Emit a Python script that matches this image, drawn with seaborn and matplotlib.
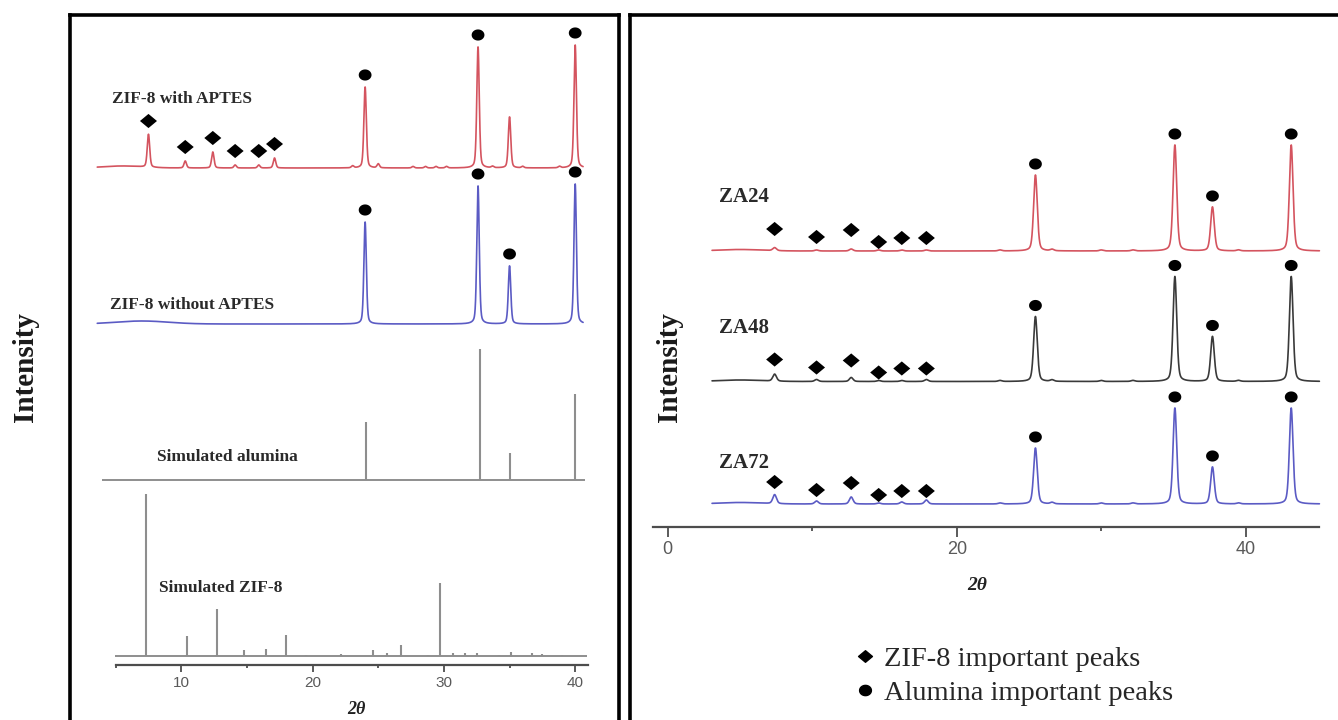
import numpy as np
import matplotlib
matplotlib.use("Agg")
import matplotlib.pyplot as plt
import seaborn as sns
from matplotlib.lines import Line2D
from matplotlib.path import Path

# ---------------- data ----------------
# Left panel: experimental patterns (2θ position, intensity a.u.)
aptes_pos = [7.5, 10.3, 12.4, 14.1, 15.9, 17.1, 23.05, 24.0, 25.0, 27.65, 28.6, 29.4, 30.2, 32.6, 33.7, 35.0, 36.0, 38.8, 40.0]
aptes_int = [33, 7, 16, 3, 3, 10, 2, 81, 4, 1.5, 1.5, 1.5, 1.5, 121, 1.5, 51, 1.5, 1.5, 123]
aptes_zif_marks = [7.5, 10.3, 12.4, 14.1, 15.9, 17.1]
aptes_alu_marks = [24.0, 32.6, 40.0]

noaptes_pos = [24.0, 32.6, 35.0, 40.0]
noaptes_int = [102, 138, 58, 140]
noaptes_alu_marks = [24.0, 32.6, 35.0, 40.0]

# Left panel: simulated reference patterns (stick positions and intensities)
sim_alumina_pos = [24.1, 32.75, 35.0, 40.0]
sim_alumina_int = [58, 131, 27, 86]
sim_zif_pos = [7.3, 10.4, 12.75, 14.8, 16.45, 18.0, 19.5, 22.2, 24.6, 25.7, 26.7, 28.8,
               29.7, 30.7, 31.6, 32.5, 34.2, 35.1, 36.7, 37.5, 39.0]
sim_zif_int = [162, 20, 47, 6, 7, 21, 1, 2, 6, 3, 11, 1,
               73, 3, 3, 3, 1, 4, 3, 2, 1]

# Right panel: ZA samples
za_alu_pos = [25.45, 35.1, 37.7, 43.15]
za24_alu = [76, 106, 44, 106]
za48_alu = [65, 105, 45, 105]
za72_alu = [56, 96, 37, 96]
za_zif_pos = [7.4, 10.3, 12.7, 14.6, 16.2, 17.9]
za24_zif = [3, 1, 2, 1, 1, 1]
za48_zif = [7, 2, 4, 1, 1, 2]
za72_zif = [9, 3, 7, 1, 2, 4]
za_minor_pos = [23.0, 26.6, 30.0, 32.2, 39.5]
za_minor_int = [1, 1.5, 1, 1, 1]

left_tick_major = [10, 20, 30, 40]
left_tick_minor = [5, 15, 25, 35]
right_tick_major = [0, 20, 40]
right_tick_minor = [10, 30]

# ---------------- style ----------------
sns.set_style("white")
plt.rcParams["font.family"] = ["Liberation Serif", "DejaVu Serif"]

RED = "#d4545f"
BLUE = "#5b5bc4"
DARK = "#3a3a3a"
STICK = "#8e8e8e"
AXC = "#4d4d4d"

W, H = 1338, 720
fig = plt.figure(figsize=(W / 100, H / 100), dpi=100)


def fx(px):
    return px / W


def fy(py):
    return 1 - py / H


# slightly wide diamond and dot markers
diamond = Path([(-1.2, 0), (0, 1), (1.2, 0), (0, -1), (-1.2, 0)],
               [Path.MOVETO, Path.LINETO, Path.LINETO, Path.LINETO, Path.CLOSEPOLY])
t = np.linspace(0, 2 * np.pi, 40)
dot = Path(np.column_stack([1.15 * np.cos(t), np.sin(t)]), closed=True)


def profile(x, pos, amp, hw, hump=0.0, hump_c=6.0, hump_w=1.6):
    y = np.zeros_like(x)
    for p, a in zip(pos, amp):
        lor = hw ** 2 / ((x - p) ** 2 + hw ** 2)
        gau = np.exp(-np.log(2) * ((x - p) / hw) ** 2)
        y += a * (0.35 * lor + 0.65 * gau)
    y += hump * np.exp(-0.5 * ((x - hump_c) / hump_w) ** 2)
    return y


def draw_trace(ax, x, y, base, color):
    sns.lineplot(x=x, y=base + y, ax=ax, color=color, linewidth=1.2,
                 estimator=None, sort=False)


def marks(ax, xs, ys, shape, size):
    sns.scatterplot(x=xs, y=ys, ax=ax, marker=shape, s=size, color="black",
                    edgecolor="none", linewidth=0, zorder=5)


def style_axis(ax, xlim, spine_y, bounds, major, minor, labsize, length):
    ax.set_xlim(*xlim)
    ax.set_ylim(0, 706)
    for s in ("left", "right", "top"):
        ax.spines[s].set_visible(False)
    ax.spines["bottom"].set_position(("data", spine_y))
    ax.spines["bottom"].set_bounds(*bounds)
    ax.spines["bottom"].set_color(AXC)
    ax.spines["bottom"].set_linewidth(1.6)
    ax.set_yticks([])
    ax.set_xticks(major)
    ax.set_xticks(minor, minor=True)
    ax.tick_params(axis="x", which="major", direction="out", length=length, width=1.3,
                   color=AXC, labelsize=labsize, labelcolor="#5a5a5a", pad=3, bottom=True)
    ax.tick_params(axis="x", which="minor", direction="out", length=length * 0.45,
                   width=1.3, color=AXC, bottom=True)
    for lab in ax.get_xticklabels():
        lab.set_fontfamily("Liberation Sans")
    ax.set_xlabel("")
    ax.set_ylabel("")
    ax.patch.set_alpha(0)


# ---------------- panel frames ----------------
for x0, x1, hide_right in ((70, 619, False), (630, 1345, True)):
    fr = fig.add_axes([fx(x0), fy(760), fx(x1 - x0), (760 - 14.5) / H])
    fr.set_xticks([])
    fr.set_yticks([])
    fr.patch.set_alpha(0)
    for s in fr.spines.values():
        s.set_linewidth(2.6)
        s.set_color("black")
    fr.spines["bottom"].set_visible(False)
    if hide_right:
        fr.spines["right"].set_visible(False)

# ---------------- left panel ----------------
axL = fig.add_axes([fx(72), 0, fx(617 - 72), 706 / H])
x0L, sL = 50.0, 13.13
xlimL = ((72 - x0L) / sL, (617 - x0L) / sL)

xg = np.linspace(3.6, 40.6, 6000)
base_red, base_blue, base_alu, base_zif = 552, 396, 240, 64

y_red = profile(xg, aptes_pos, aptes_int, 0.11, hump=2.0, hump_c=5.5, hump_w=1.5)
draw_trace(axL, xg, y_red, base_red, RED)
y_blue = profile(xg, noaptes_pos, noaptes_int, 0.11, hump=3.0, hump_c=7.0, hump_w=2.0)
draw_trace(axL, xg, y_blue, base_blue, BLUE)

red_lookup = dict(zip(aptes_pos, aptes_int))
marks(axL, aptes_zif_marks, [base_red + red_lookup[p] + 14 for p in aptes_zif_marks], diamond, 150)
marks(axL, aptes_alu_marks, [base_red + red_lookup[p] + 12 for p in aptes_alu_marks], dot, 85)
blue_lookup = dict(zip(noaptes_pos, noaptes_int))
marks(axL, noaptes_alu_marks, [base_blue + blue_lookup[p] + 12 for p in noaptes_alu_marks], dot, 85)

# simulated stick patterns
axL.hlines(base_alu, 3.96, 40.75, color=STICK, lw=1.4)
axL.vlines(sim_alumina_pos, base_alu, base_alu + np.array(sim_alumina_int), color=STICK, lw=1.5)
axL.hlines(base_zif, 4.95, 40.9, color=STICK, lw=1.4)
axL.vlines(sim_zif_pos, base_zif, base_zif + np.array(sim_zif_int), color=STICK, lw=1.5)

style_axis(axL, xlimL, 55, (5, 41), left_tick_major, left_tick_minor, 11, 5)

lab_kw = dict(fontsize=12.5, fontweight="bold", color="#2a2a2a", va="center", ha="left")
axL.text(4.72, 621, "ZIF-8 with APTES", **lab_kw)
axL.text(4.57, 415, "ZIF-8 without APTES", **lab_kw)
axL.text(8.15, 263, "Simulated alumina", **lab_kw)
axL.text(8.3, 132, "Simulated ZIF-8", **lab_kw)
axL.text(23.3, 10, "2θ", fontsize=13, fontweight="bold", fontstyle="italic",
         ha="center", va="center", color="#222222")

# ---------------- right panel ----------------
axR = fig.add_axes([fx(632), 0, fx(1338 - 632), 706 / H])
x0R, sR = 667.7, 14.45
xlimR = ((632 - x0R) / sR, (1338 - x0R) / sR)

xr = np.linspace(3.07, 45.1, 6000)
za_series = [
    ("ZA24", za24_alu, za24_zif, 469, RED, 523),
    ("ZA48", za48_alu, za48_zif, 338.5, DARK, 392),
    ("ZA72", za72_alu, za72_zif, 216, BLUE, 257),
]
zif_mark_lift = [22, 14, 21, 9, 13, 13]
for name, alu, zif, base, col, ylab in za_series:
    y = profile(xr, za_alu_pos + za_zif_pos + za_minor_pos,
                alu + zif + za_minor_int, 0.15, hump=1.5, hump_c=5.0, hump_w=1.5)
    draw_trace(axR, xr, y, base, col)
    marks(axR, za_alu_pos, [base + a + 11 for a in alu], dot, 85)
    marks(axR, za_zif_pos, [base + l for l in zif_mark_lift], diamond, 150)
    axR.text(3.55, ylab, name, fontsize=15, fontweight="bold", color="#2a2a2a",
             ha="left", va="center")

style_axis(axR, xlimR, 193, (-1.04, 45.1), right_tick_major, right_tick_minor, 13, 7)
axR.text(21.4, 135, "2θ", fontsize=14, fontweight="bold", fontstyle="italic",
         ha="center", va="center", color="#222222")

handles = [Line2D([], [], ls="", marker=diamond, ms=10, color="black"),
           Line2D([], [], ls="", marker=dot, ms=8.5, color="black")]
fig.legend(handles, ["ZIF-8 important peaks", "Alumina important peaks"],
           loc="upper left", bbox_to_anchor=(fx(856), fy(646)), bbox_transform=fig.transFigure,
           frameon=False, borderpad=0, borderaxespad=0, handlelength=0.6, handletextpad=0.4,
           labelspacing=0.3, prop={"family": "Liberation Serif", "size": 20.5})

# axis titles
for xp in (25, 670):
    fig.text(fx(xp), fy(367), "Intensity", rotation=90, fontsize=21, fontweight="bold",
             ha="center", va="center", color="#1a1a1a")

fig.savefig("out.png", dpi=100)
